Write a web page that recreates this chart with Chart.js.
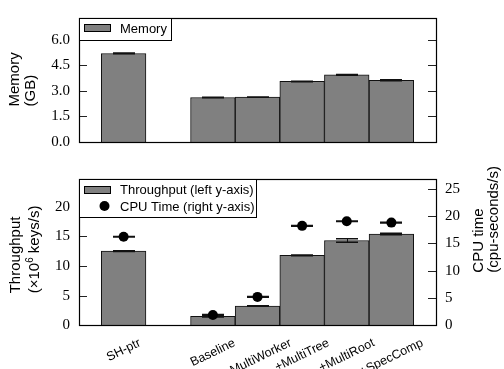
<!DOCTYPE html>
<html><head><meta charset="utf-8">
<script src="https://cdn.jsdelivr.net/npm/chart.js@4/dist/chart.umd.min.js"></script>
<style>
html,body{margin:0;padding:0;background:#fff;}
#wrap{position:relative;width:504px;height:369px;overflow:hidden;background:#fff;}
.box{position:absolute;left:0;width:504px;}
</style></head><body>
<div id="wrap">
<div class="box" style="top:0;height:160px"><canvas id="c1" width="504" height="160"></canvas></div>
<div class="box" style="top:160px;height:209px"><canvas id="c2" width="504" height="209"></canvas></div>
</div>
<script>
// ---- data ----
const categories = ['SH-ptr', 'Baseline', '+MultiWorker', '+MultiTree', '+MultiRoot', '+SpecComp'];
const memoryGB = [5.19, 2.61, 2.63, 3.55, 3.94, 3.62];
const memoryErr = [0.02, 0.01, 0.01, 0.01, 0.02, 0.02];
const throughput = [12.5, 1.52, 3.25, 11.8, 14.3, 15.4];
const throughputErr = [0.05, 0.12, 0.05, 0.05, 0.3, 0.12];
const cpuTime = [16.2, 1.9, 5.2, 18.2, 19.05, 18.8];
const cpuErr = [0.05, 0.05, 0.05, 0.05, 0.05, 0.05];
const memoryTicks = [0, 1.5, 3.0, 4.5, 6.0];
const throughputTicks = [0, 5, 10, 15, 20];
const cpuTicks = [0, 5, 10, 15, 20, 25];

// slots: empty slot at each end, and an empty slot after SH-ptr
const slotLabels = ['', categories[0], '', ...categories.slice(1), ''];
const pad = a => [null, a[0], null, ...a.slice(1), null];
const slotOf = i => (i === 0 ? 1 : i + 2);

const SANS = '"Liberation Sans", Arial, sans-serif';
const SERIF = '"Liberation Serif", "DejaVu Serif", serif';
const GREY = '#808080';

function fixedTicks(list) {
  return s => { s.ticks = list.map(v => ({ value: v })); };
}

function drawErrors(chart, values, errs, axisId) {
  const ctx = chart.ctx, xs = chart.scales.x, ys = chart.scales[axisId];
  ctx.save();
  ctx.strokeStyle = '#111';
  for (let i = 0; i < values.length; i++) {
    const x = Math.round(xs.getPixelForValue(slotOf(i)));
    const yt = ys.getPixelForValue(values[i] + errs[i]);
    const yb = ys.getPixelForValue(values[i] - errs[i]);
    ctx.lineWidth = 1;
    ctx.beginPath(); ctx.moveTo(x + 0.5, yt); ctx.lineTo(x + 0.5, yb); ctx.stroke();
    ctx.lineWidth = 1.6;
    ctx.beginPath();
    ctx.moveTo(x - 11, yt); ctx.lineTo(x + 11, yt);
    ctx.moveTo(x - 11, yb); ctx.lineTo(x + 11, yb);
    ctx.stroke();
  }
  ctx.restore();
}

function drawFrameAndTicks(chart, leftId, rightId, rightTicks) {
  const ctx = chart.ctx, a = chart.chartArea;
  ctx.save();
  ctx.strokeStyle = '#222';
  ctx.lineWidth = 1;
  const drawT = (scale, list, side) => {
    list.forEach(v => {
      const y = Math.round(scale.getPixelForValue(v)) + 0.5;
      ctx.beginPath();
      if (side === 'l') { ctx.moveTo(a.left, y); ctx.lineTo(a.left + 8, y); }
      else { ctx.moveTo(a.right - 8, y); ctx.lineTo(a.right, y); }
      ctx.stroke();
    });
  };
  drawT(chart.scales[leftId], chart.scales[leftId].ticks.map(t => t.value), 'l');
  drawT(chart.scales[rightId], rightTicks, 'r');
  ctx.strokeStyle = '#000';
  ctx.lineWidth = 1.2;
  ctx.strokeRect(Math.round(a.left) + 0.5, Math.round(a.top) + 0.5, Math.round(a.right - a.left), Math.round(a.bottom - a.top));
  ctx.restore();
}

function drawRotTitle(ctx, lines, baselines, startY) {
  ctx.save();
  ctx.fillStyle = '#000';
  lines.forEach((parts, i) => {
    ctx.save();
    ctx.translate(baselines[i], startY);
    ctx.rotate(-Math.PI / 2);
    ctx.textAlign = 'left';
    ctx.textBaseline = 'alphabetic';
    let x = 0;
    parts.forEach(p => {
      ctx.font = p.font;
      ctx.fillText(p.t, x, p.dy || 0);
      x += ctx.measureText(p.t).width;
    });
    ctx.restore();
  });
  ctx.restore();
}

function drawSwatch(ctx, x, y) {
  ctx.fillStyle = GREY;
  ctx.fillRect(x, y, 26, 7);
  ctx.strokeStyle = '#000';
  ctx.lineWidth = 1;
  ctx.strokeRect(x + 0.5, y + 0.5, 26, 7);
}

const F15 = '15px ' + SANS;

// ---- top chart: memory ----
new Chart(document.getElementById('c1'), {
  type: 'bar',
  data: {
    labels: slotLabels,
    datasets: [{
      label: 'Memory',
      data: pad(memoryGB),
      backgroundColor: GREY,
      borderColor: '#111',
      borderWidth: 1,
      barPercentage: 1,
      categoryPercentage: 1
    }]
  },
  options: {
    responsive: false,
    animation: false,
    devicePixelRatio: 1,
    layout: { padding: { top: 3, bottom: 10, left: 0, right: 0 } },
    plugins: { legend: { display: false }, tooltip: { enabled: false } },
    scales: {
      x: { type: 'category', offset: false, display: false },
      y: {
        position: 'left', min: 0, max: 7.27,
        afterBuildTicks: fixedTicks(memoryTicks),
        afterFit: s => { s.width = 79; },
        grid: { display: false, drawTicks: false },
        border: { display: false },
        ticks: { padding: 9, color: '#000', font: { family: SERIF, size: 15 }, callback: v => Number(v).toFixed(1) }
      },
      y2: {
        position: 'right', min: 0, max: 7.27,
        afterBuildTicks: fixedTicks(memoryTicks),
        afterFit: s => { s.width = 68; },
        grid: { display: false, drawTicks: false },
        border: { display: false },
        ticks: { display: false }
      }
    }
  },
  plugins: [{
    id: 'decoTop',
    afterDatasetDraw(chart, args) {
      if (args.index === 0) drawErrors(chart, memoryGB, memoryErr, 'y');
    },
    afterDraw(chart) {
      const ctx = chart.ctx, a = chart.chartArea;
      drawFrameAndTicks(chart, 'y', 'y2', memoryTicks);
      // legend
      ctx.save();
      ctx.fillStyle = '#fff';
      ctx.fillRect(a.left, a.top, 92, 22);
      ctx.strokeStyle = '#000'; ctx.lineWidth = 1;
      ctx.strokeRect(Math.round(a.left) + 0.5, Math.round(a.top) + 0.5, 92, 22);
      drawSwatch(ctx, a.left + 5, a.top + 6);
      ctx.fillStyle = '#000';
      ctx.font = '13px ' + SANS;
      ctx.textBaseline = 'middle';
      ctx.fillText('Memory', a.left + 41, a.top + 11.5);
      ctx.restore();
      // axis title
      drawRotTitle(ctx, [[{ t: 'Memory', font: F15 }], [{ t: '(GB)', font: F15 }]], [18.5, 34.5], 106.5);
    }
  }]
});

// ---- bottom chart: throughput + CPU time ----
new Chart(document.getElementById('c2'), {
  type: 'bar',
  data: {
    labels: slotLabels,
    datasets: [{
      label: 'Throughput (left y-axis)',
      data: pad(throughput),
      yAxisID: 'y',
      backgroundColor: GREY,
      borderColor: '#111',
      borderWidth: 1,
      barPercentage: 1,
      categoryPercentage: 1,
      order: 1
    }, {
      type: 'line',
      label: 'CPU Time (right y-axis)',
      data: pad(cpuTime),
      yAxisID: 'y2',
      showLine: false,
      pointRadius: 5,
      pointBackgroundColor: '#000',
      pointBorderColor: '#000',
      pointBorderWidth: 0,
      order: 0
    }]
  },
  options: {
    responsive: false,
    animation: false,
    devicePixelRatio: 1,
    layout: { padding: { top: 19, bottom: 43.7, left: 0, right: 0 } },
    plugins: { legend: { display: false }, tooltip: { enabled: false } },
    scales: {
      x: { type: 'category', offset: false, display: false },
      y: {
        position: 'left', min: 0, max: 24.67,
        afterBuildTicks: fixedTicks(throughputTicks),
        afterFit: s => { s.width = 79; },
        grid: { display: false, drawTicks: false },
        border: { display: false },
        ticks: { padding: 9, color: '#000', font: { family: SERIF, size: 15 } }
      },
      y2: {
        position: 'right', min: 0, max: 26.78,
        afterBuildTicks: fixedTicks(cpuTicks),
        afterFit: s => { s.width = 68; },
        grid: { display: false, drawTicks: false },
        border: { display: false },
        ticks: { padding: 9, color: '#000', font: { family: SERIF, size: 15 } }
      }
    }
  },
  plugins: [{
    id: 'decoBottom',
    afterDatasetDraw(chart, args) {
      if (args.index === 0) {
        drawErrors(chart, throughput, throughputErr, 'y');
        drawErrors(chart, cpuTime, cpuErr, 'y2');
      }
    },
    afterDraw(chart) {
      const ctx = chart.ctx, a = chart.chartArea;
      drawFrameAndTicks(chart, 'y', 'y2', cpuTicks);
      // legend
      ctx.save();
      ctx.fillStyle = '#fff';
      ctx.fillRect(a.left, a.top, 177, 38);
      ctx.strokeStyle = '#000'; ctx.lineWidth = 1;
      ctx.strokeRect(Math.round(a.left) + 0.5, Math.round(a.top) + 0.5, 177, 38);
      drawSwatch(ctx, a.left + 5, a.top + 7);
      ctx.fillStyle = '#000';
      ctx.beginPath(); ctx.arc(a.left + 25.5, a.top + 27, 5, 0, Math.PI * 2); ctx.fill();
      ctx.font = '13px ' + SANS;
      ctx.textBaseline = 'middle';
      ctx.fillText(chart.data.datasets[0].label, a.left + 41, a.top + 11);
      ctx.fillText(chart.data.datasets[1].label, a.left + 41, a.top + 28);
      ctx.restore();
      // x labels (rotated, bbox centred on the bar, top aligned)
      const xs = chart.scales.x;
      const ang = 26 * Math.PI / 180;
      ctx.save();
      ctx.font = '12.5px ' + SANS;
      ctx.fillStyle = '#000';
      categories.forEach((c, i) => {
        const x = xs.getPixelForValue(slotOf(i));
        const w = ctx.measureText(c).width, h = 11;
        const bh = w * Math.sin(ang) + h * Math.cos(ang);
        const cy = a.bottom + 12 + bh / 2;
        ctx.save();
        ctx.translate(x, cy);
        ctx.rotate(-ang);
        ctx.textAlign = 'center';
        ctx.textBaseline = 'middle';
        ctx.fillText(c, 0, 0);
        ctx.restore();
      });
      ctx.restore();
      // axis titles
      drawRotTitle(ctx, [
        [{ t: 'Throughput', font: F15 }],
        [{ t: '(\u00d710', font: F15 }, { t: '6', font: '10px ' + SANS, dy: -6 }, { t: ' keys/s)', font: F15 }]
      ], [19.5, 39], 133.3);
      drawRotTitle(ctx, [[{ t: 'CPU time', font: F15 }], [{ t: '(cpu-seconds/s)', font: F15 }]], [483, 498], 112.7);
    }
  }]
});
</script>
</body></html>
